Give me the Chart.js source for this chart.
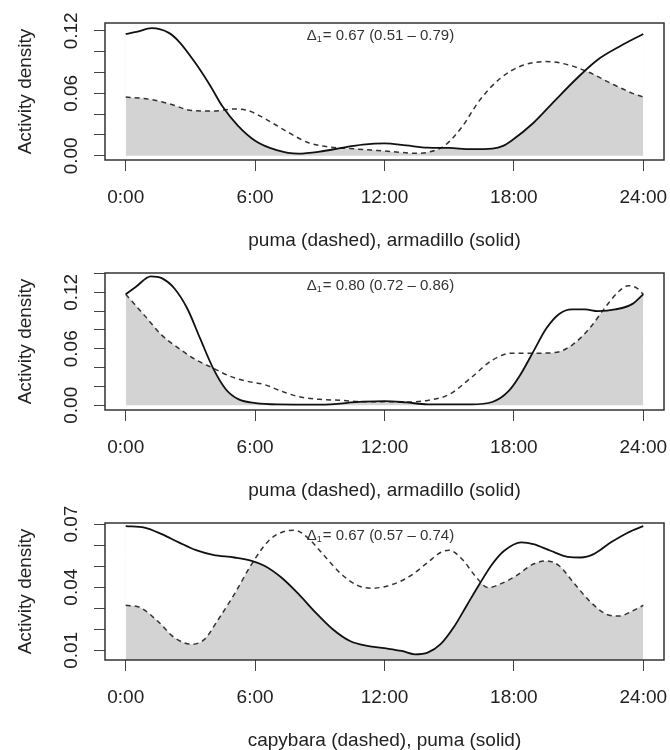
<!DOCTYPE html>
<html><head><meta charset="utf-8">
<script src="https://cdn.jsdelivr.net/npm/chart.js@4.4.1/dist/chart.umd.min.js"></script>
<style>
html,body{margin:0;padding:0;background:#fff;}
canvas{display:block;}
</style></head><body>
<canvas id="c1" width="670" height="250"></canvas>
<canvas id="c2" width="670" height="250"></canvas>
<canvas id="c3" width="670" height="250"></canvas>
<script>
const xTickHours = [0, 6, 12, 18, 24];
const xTickLabels = ['0:00', '6:00', '12:00', '18:00', '24:00'];
const yAxisTitle = 'Activity density';

// ---- Panel 1: puma vs armadillo ----
const p1Title = 'puma (dashed), armadillo (solid)';
const p1Estimate = ['0.67', '0.51', '0.79'];
const p1SolidHours = [0, 0.5, 1.2, 2.0, 2.5, 3.2, 3.9, 4.5, 5.2, 6.0, 7.0, 8.0, 9.0, 10.0, 11.0, 12.0, 13.0, 14.0, 15.0, 16.0, 17.0, 17.5, 17.9, 18.9, 19.9, 20.9, 21.9, 22.9, 24];
const p1Solid = [0.117, 0.119, 0.1225, 0.118, 0.109, 0.090, 0.068, 0.047, 0.029, 0.0145, 0.0055, 0.0021, 0.004, 0.0076, 0.0107, 0.0119, 0.010, 0.0079, 0.0076, 0.0064, 0.007, 0.0095, 0.0147, 0.0315, 0.053, 0.074, 0.0925, 0.105, 0.117];
const p1DashedHours = [0, 1.07, 2.06, 3.06, 4.05, 5.04, 5.64, 6.43, 7.42, 8.42, 9.41, 10.4, 11.4, 12.4, 13.4, 14.0, 14.8, 15.6, 16.4, 17.35, 18.3, 19.5, 20.5, 21.5, 22.5, 23.5, 24];
const p1Dashed = [0.0565, 0.0544, 0.0498, 0.0435, 0.043, 0.045, 0.0437, 0.036, 0.024, 0.013, 0.0085, 0.007, 0.0055, 0.004, 0.0024, 0.0034, 0.010, 0.028, 0.053, 0.074, 0.086, 0.0905, 0.0875, 0.080, 0.0696, 0.060, 0.0565];
const p1YTicks = [0, 0.02, 0.04, 0.06, 0.08, 0.10, 0.12];
const p1YLabels = [0, 0.06, 0.12];
const p1YRange = [-0.004, 0.1275];

// ---- Panel 2: puma vs armadillo ----
const p2Title = 'puma (dashed), armadillo (solid)';
const p2Estimate = ['0.80', '0.72', '0.86'];
const p2SolidHours = [0, 0.48, 1.17, 1.67, 2.26, 2.86, 3.45, 4.05, 4.65, 5.24, 6.03, 7.03, 9, 11, 12, 13, 14, 16, 17, 17.75, 18.3, 18.9, 19.5, 20.1, 20.7, 21.3, 21.9, 22.7, 23.5, 24];
const p2Solid = [0.118, 0.126, 0.137, 0.135, 0.124, 0.1025, 0.071, 0.0395, 0.0168, 0.0063, 0.0024, 0.001, 0.0007, 0.0038, 0.0045, 0.0031, 0.001, 0.001, 0.0035, 0.015, 0.0325, 0.057, 0.0815, 0.097, 0.1018, 0.1018, 0.100, 0.1018, 0.1077, 0.118];
const p2DashedHours = [0, 0.87, 1.67, 2.46, 3.26, 4.05, 4.84, 5.64, 6.43, 7.22, 8.02, 9, 10, 11, 12, 13, 14, 15, 16, 17, 17.9, 18.9, 19.9, 20.7, 21.5, 22.3, 22.9, 23.3, 23.7, 24];
const p2Dashed = [0.118, 0.0955, 0.0745, 0.0605, 0.0483, 0.0395, 0.0308, 0.0255, 0.022, 0.015, 0.0091, 0.0063, 0.0052, 0.0038, 0.0038, 0.0035, 0.0052, 0.0115, 0.029, 0.048, 0.0553, 0.0553, 0.056, 0.064, 0.0815, 0.106, 0.1217, 0.127, 0.1245, 0.118];
const p2YTicks = [0, 0.02, 0.04, 0.06, 0.08, 0.10, 0.12, 0.14];
const p2YLabels = [0, 0.06, 0.12];
const p2YRange = [-0.005, 0.1405];

// ---- Panel 3: capybara vs puma ----
const p3Title = 'capybara (dashed), puma (solid)';
const p3Estimate = ['0.67', '0.57', '0.74'];
const p3SolidHours = [0, 0.87, 1.67, 2.46, 3.26, 4.05, 5.04, 5.84, 6.43, 7.22, 8.02, 8.81, 9.6, 10.4, 11.2, 12, 12.8, 13.4, 14, 14.6, 15.2, 15.8, 16.4, 17, 17.55, 18.35, 18.9, 19.7, 20.5, 21.1, 21.7, 22.5, 23.3, 24];
const p3Solid = [0.0690, 0.0683, 0.0652, 0.0613, 0.0576, 0.0554, 0.0541, 0.0525, 0.0502, 0.0446, 0.0367, 0.0279, 0.020, 0.0144, 0.0121, 0.011, 0.0097, 0.0081, 0.0089, 0.0129, 0.0208, 0.0311, 0.0414, 0.051, 0.0573, 0.0613, 0.0605, 0.0573, 0.0544, 0.0541, 0.0557, 0.0613, 0.066, 0.0690];
const p3DashedHours = [0, 0.67, 1.47, 2.26, 3.06, 3.65, 4.25, 5.04, 5.84, 6.63, 7.22, 7.82, 8.42, 9.21, 10, 10.8, 11.4, 12.4, 13.2, 14, 14.6, 15, 15.6, 16.2, 16.8, 17.35, 18.1, 18.9, 19.5, 20.1, 20.7, 21.5, 22.3, 22.9, 23.5, 24];
const p3Dashed = [0.0314, 0.0303, 0.024, 0.016, 0.0129, 0.0152, 0.024, 0.0367, 0.051, 0.0621, 0.066, 0.0671, 0.0637, 0.0549, 0.0462, 0.0406, 0.0395, 0.0414, 0.0454, 0.0517, 0.0565, 0.0576, 0.0533, 0.0454, 0.0398, 0.0414, 0.0454, 0.051, 0.0525, 0.0502, 0.043, 0.0335, 0.0271, 0.0263, 0.0287, 0.0314];
const p3YTicks = [0.01, 0.02, 0.03, 0.04, 0.05, 0.06, 0.07];
const p3YLabels = [0.01, 0.04, 0.07];
const p3YRange = [0.0054, 0.0705];

const FONT = '"Liberation Sans", Arial, Helvetica, sans-serif';
const INK = '#222';

function pts(hours, vals) { return hours.map((h, i) => ({ x: h, y: vals[i] })); }

const panelDecor = {
  id: 'panelDecor',
  afterDraw(chart, args, opts) {
    const { ctx, chartArea: a } = chart;
    const ys = chart.scales.y, xs = chart.scales.x;
    ctx.save();
    // plot box
    ctx.strokeStyle = '#333';
    ctx.lineWidth = 1.5;
    ctx.strokeRect(a.left, a.top, a.right - a.left, a.bottom - a.top);
    // rotated y tick labels
    ctx.fillStyle = INK;
    ctx.font = '19px ' + FONT;
    ctx.textAlign = 'center';
    ctx.textBaseline = 'middle';
    opts.yLabels.forEach(v => {
      const py = ys.getPixelForValue(v);
      ctx.save();
      ctx.translate(72, py);
      ctx.rotate(-Math.PI / 2);
      ctx.fillText(v.toFixed(2), 0, 0);
      ctx.restore();
    });
    // overlap estimate annotation
    const e = opts.estimate;
    const main = '= ' + e[0] + ' (' + e[1] + ' \u2013 ' + e[2] + ')';
    ctx.textAlign = 'left';
    ctx.textBaseline = 'alphabetic';
    ctx.font = '15px ' + FONT;
    const wD = ctx.measureText('\u0394').width;
    const wMain = ctx.measureText(main).width;
    ctx.font = '9px ' + FONT;
    const wSub = ctx.measureText('1').width;
    const total = wD + wSub + 1 + wMain;
    let x0 = xs.getPixelForValue(12) - 4 - total / 2;
    const base = a.top + 17;
    ctx.fillStyle = '#333';
    ctx.font = '15px ' + FONT;
    ctx.fillText('\u0394', x0, base);
    ctx.font = '9px ' + FONT;
    ctx.fillText('1', x0 + wD, base + 2);
    ctx.font = '15px ' + FONT;
    ctx.fillText(main, x0 + wD + wSub + 1, base);
    ctx.restore();
  }
};

function makePanel(id, title, estimate, sH, s, dH, d, yTicks, yLabels, yRange) {
  const gridOpts = { display: true, drawOnChartArea: false, drawTicks: true, tickLength: 11, color: '#444', lineWidth: 1 };
  return new Chart(document.getElementById(id), {
    type: 'line',
    data: {
      datasets: [
        { data: pts(sH, s), fill: 'origin', backgroundColor: '#d3d3d3', borderColor: 'transparent', borderWidth: 0, pointRadius: 0, order: 4, cubicInterpolationMode: 'monotone' },
        { data: pts(dH, d), fill: 'end', backgroundColor: '#ffffff', borderColor: 'transparent', borderWidth: 0, pointRadius: 0, order: 3, cubicInterpolationMode: 'monotone' },
        { data: pts(dH, d), fill: false, borderColor: '#333', borderWidth: 1.5, borderDash: [5, 4], pointRadius: 0, order: 2, cubicInterpolationMode: 'monotone' },
        { data: pts(sH, s), fill: false, borderColor: '#111', borderWidth: 1.8, pointRadius: 0, order: 1, cubicInterpolationMode: 'monotone' }
      ]
    },
    options: {
      responsive: false, animation: false, devicePixelRatio: 1,
      layout: { padding: { left: 0, right: 6, top: 23, bottom: 0 } },
      plugins: {
        legend: { display: false }, tooltip: { enabled: false },
        panelDecor: { yLabels: yLabels, estimate: estimate }
      },
      scales: {
        x: {
          type: 'linear', min: -0.96, max: 24.96,
          afterBuildTicks: sc => { sc.ticks = xTickHours.map(v => ({ value: v })); },
          afterFit: sc => { sc.height = 90; sc.paddingLeft = 0; sc.paddingRight = 0; },
          grid: gridOpts,
          border: { display: false },
          ticks: { padding: 15, color: INK, font: { family: FONT, size: 19 }, maxRotation: 0, autoSkip: false,
            callback: v => xTickLabels[xTickHours.indexOf(v)] },
          title: { display: true, text: title, color: INK, font: { family: FONT, size: 19, lineHeight: 1 }, padding: { top: 0, bottom: 0 } }
        },
        y: {
          type: 'linear', min: yRange[0], max: yRange[1],
          afterBuildTicks: sc => { sc.ticks = yTicks.map(v => ({ value: v })); },
          afterFit: sc => { sc.width = 105; sc.paddingTop = 0; sc.paddingBottom = 0; },
          grid: gridOpts,
          border: { display: false },
          ticks: { display: false },
          title: { display: true, text: yAxisTitle, color: INK, font: { family: FONT, size: 19, lineHeight: 1 }, padding: { top: 16, bottom: 0 } }
        }
      }
    },
    plugins: [panelDecor]
  });
}

makePanel('c1', p1Title, p1Estimate, p1SolidHours, p1Solid, p1DashedHours, p1Dashed, p1YTicks, p1YLabels, p1YRange);
makePanel('c2', p2Title, p2Estimate, p2SolidHours, p2Solid, p2DashedHours, p2Dashed, p2YTicks, p2YLabels, p2YRange);
makePanel('c3', p3Title, p3Estimate, p3SolidHours, p3Solid, p3DashedHours, p3Dashed, p3YTicks, p3YLabels, p3YRange);
</script>
</body></html>
